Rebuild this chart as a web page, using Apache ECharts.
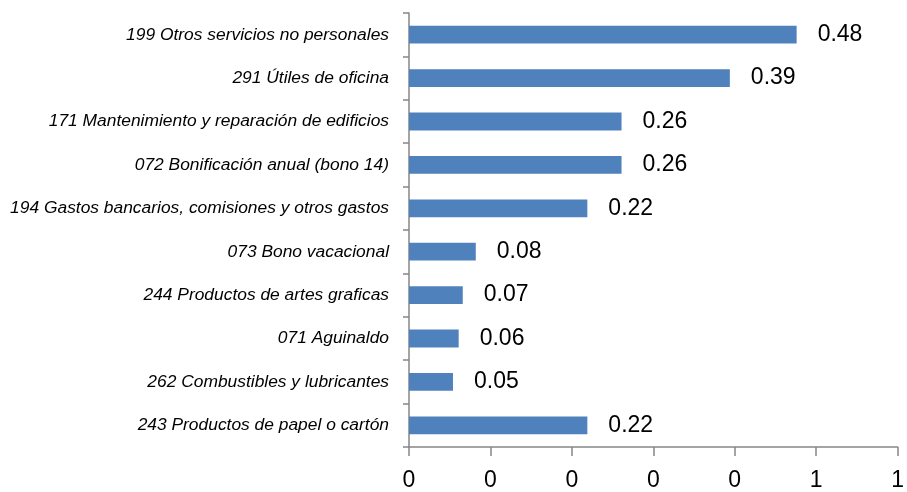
<!DOCTYPE html>
<html>
<head>
<meta charset="utf-8">
<script src="https://cdn.jsdelivr.net/npm/echarts@6/dist/echarts.min.js"></script>
<style>html,body{margin:0;padding:0;background:#fff}#c{width:907px;height:492px}</style>
</head>
<body>
<div id="c"></div>
<script>
var categories = [
  "199 Otros servicios no personales",
  "291 Útiles de oficina",
  "171 Mantenimiento y reparación de edificios",
  "072 Bonificación anual (bono 14)",
  "194 Gastos bancarios, comisiones y otros gastos",
  "073 Bono vacacional",
  "244 Productos de artes graficas",
  "071 Aguinaldo",
  "262 Combustibles y lubricantes",
  "243 Productos de papel o cartón"
];
var values = [0.476, 0.394, 0.261, 0.261, 0.219, 0.082, 0.066, 0.061, 0.054, 0.219];
var xMin = 0, xMax = 0.6, xStep = 0.1;

var chart = echarts.init(document.getElementById('c'), null, {renderer: 'canvas'});
chart.setOption({
  animation: false,
  grid: {left: 409, top: 13, right: 5, bottom: 44, containLabel: false},
  xAxis: {
    type: 'value', min: xMin, max: xMax, interval: xStep,
    splitLine: {show: false},
    axisLine: {show: true, lineStyle: {color: '#868686', width: 1.5}},
    axisTick: {show: true, length: 9, lineStyle: {color: '#868686', width: 1.5}},
    axisLabel: {
      color: '#000', fontSize: 23, fontFamily: 'Liberation Sans', margin: 22,
      formatter: function (v) { return Math.round(v).toString(); }
    }
  },
  yAxis: {
    type: 'category', data: categories, inverse: true,
    axisLine: {show: true, lineStyle: {color: '#868686', width: 1.5}},
    axisTick: {show: true, length: 6, alignWithLabel: false, lineStyle: {color: '#868686', width: 1.5}},
    axisLabel: {color: '#000', fontSize: 17.4, fontStyle: 'italic', fontFamily: 'Liberation Sans', margin: 20}
  },
  series: [{
    type: 'bar', data: values, barWidth: '41%',
    itemStyle: {color: '#4F81BD'},
    label: {
      show: true, position: 'right', distance: 21, color: '#000',
      fontSize: 23, fontFamily: 'Liberation Sans',
      formatter: function (p) { return p.value.toFixed(2); }
    }
  }]
});
</script>
</body>
</html>
